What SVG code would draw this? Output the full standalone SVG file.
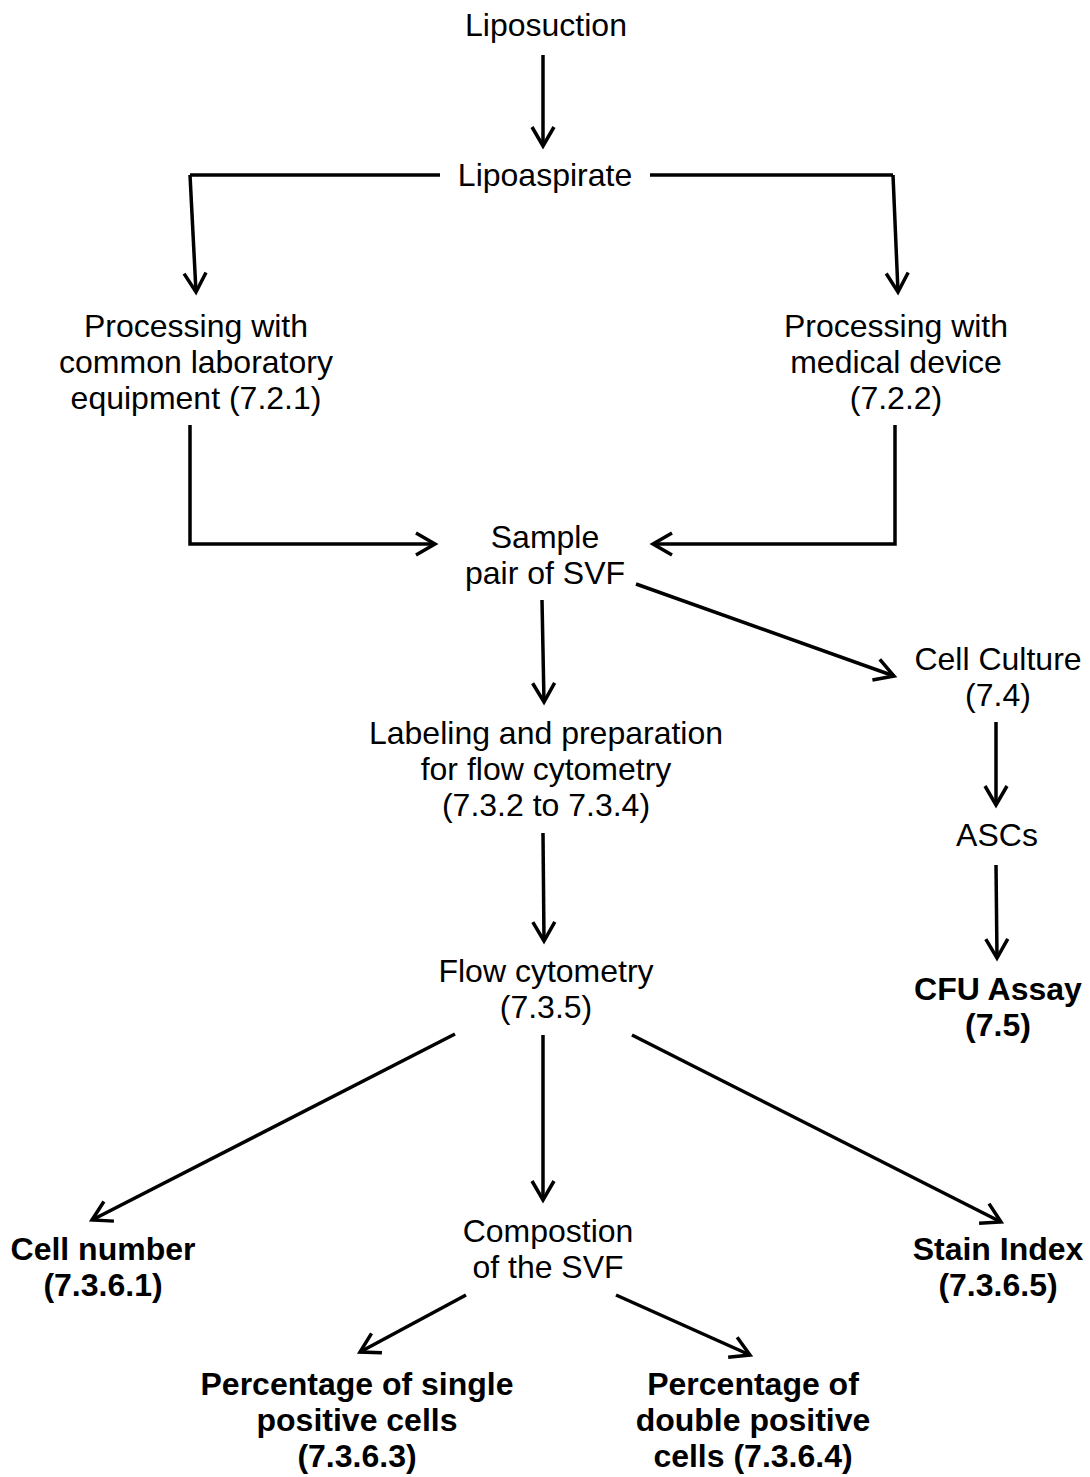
<svg xmlns="http://www.w3.org/2000/svg" width="1090" height="1477" viewBox="0 0 1090 1477">
<style>
text{font-family:"Liberation Sans",Arial,sans-serif;font-size:32px;fill:#000;text-anchor:middle}
.b{font-weight:bold}
.c{fill:none;stroke:#000;stroke-width:3.5;marker-end:url(#ah)}
.n{fill:none;stroke:#000;stroke-width:3.5}
</style>
<defs>
<marker id="ah" markerUnits="userSpaceOnUse" markerWidth="40" markerHeight="40" viewBox="-30 -20 40 40" refX="0" refY="0" orient="auto" overflow="visible">
<path d="M-19,-11 L0,0 L-19,11" fill="none" stroke="#000" stroke-width="3.5" stroke-linejoin="miter"/>
</marker>
</defs>
<rect width="1090" height="1477" fill="#fff"/>
<g id="connectors">
<path class="c" d="M543,55 L543,146"/>
<path class="n" d="M440,175 L190,175"/>
<path class="c" d="M190,175 L196,292"/>
<path class="n" d="M650,175 L893,175"/>
<path class="c" d="M893,175 L898,292"/>
<path class="c" d="M190,425 L190,544 L435,544"/>
<path class="c" d="M895,425 L895,544 L653,544"/>
<path class="c" d="M542,600 L544,702"/>
<path class="c" d="M636,584 L894,676"/>
<path class="c" d="M996,722 L996,805"/>
<path class="c" d="M996,865 L997,958"/>
<path class="c" d="M543,833 L544,941"/>
<path class="c" d="M455,1034 L92,1220"/>
<path class="c" d="M543,1035 L543,1200"/>
<path class="c" d="M632,1035 L1001,1222"/>
<path class="c" d="M466,1295 L360,1352"/>
<path class="c" d="M616,1295 L750,1355"/>
</g>
<g id="liposuction"><text x="546" y="36">Liposuction</text></g>
<g id="lipoaspirate"><text x="545" y="186">Lipoaspirate</text></g>
<g id="proc-lab"><text x="196" y="337">Processing with</text><text x="196" y="373">common laboratory</text><text x="196" y="409">equipment (7.2.1)</text></g>
<g id="proc-med"><text x="896" y="337">Processing with</text><text x="896" y="373">medical device</text><text x="896" y="409">(7.2.2)</text></g>
<g id="sample"><text x="545" y="548">Sample</text><text x="545" y="584">pair of SVF</text></g>
<g id="culture"><text x="998" y="670">Cell Culture</text><text x="998" y="706">(7.4)</text></g>
<g id="ascs"><text x="997" y="846">ASCs</text></g>
<g id="cfu"><text class="b" x="998" y="1000">CFU Assay</text><text class="b" x="998" y="1036">(7.5)</text></g>
<g id="labeling"><text x="546" y="744">Labeling and preparation</text><text x="546" y="780">for flow cytometry</text><text x="546" y="816">(7.3.2 to 7.3.4)</text></g>
<g id="flow"><text x="546" y="982">Flow cytometry</text><text x="546" y="1018">(7.3.5)</text></g>
<g id="cellnumber"><text class="b" x="103" y="1260">Cell number</text><text class="b" x="103" y="1296">(7.3.6.1)</text></g>
<g id="composition"><text x="548" y="1242">Compostion</text><text x="548" y="1278">of the SVF</text></g>
<g id="stain"><text class="b" x="998" y="1260">Stain Index</text><text class="b" x="998" y="1296">(7.3.6.5)</text></g>
<g id="single"><text class="b" x="357" y="1395">Percentage of single</text><text class="b" x="357" y="1431">positive cells</text><text class="b" x="357" y="1467">(7.3.6.3)</text></g>
<g id="double"><text class="b" x="753" y="1395">Percentage of</text><text class="b" x="753" y="1431">double positive</text><text class="b" x="753" y="1467">cells (7.3.6.4)</text></g>
</svg>
